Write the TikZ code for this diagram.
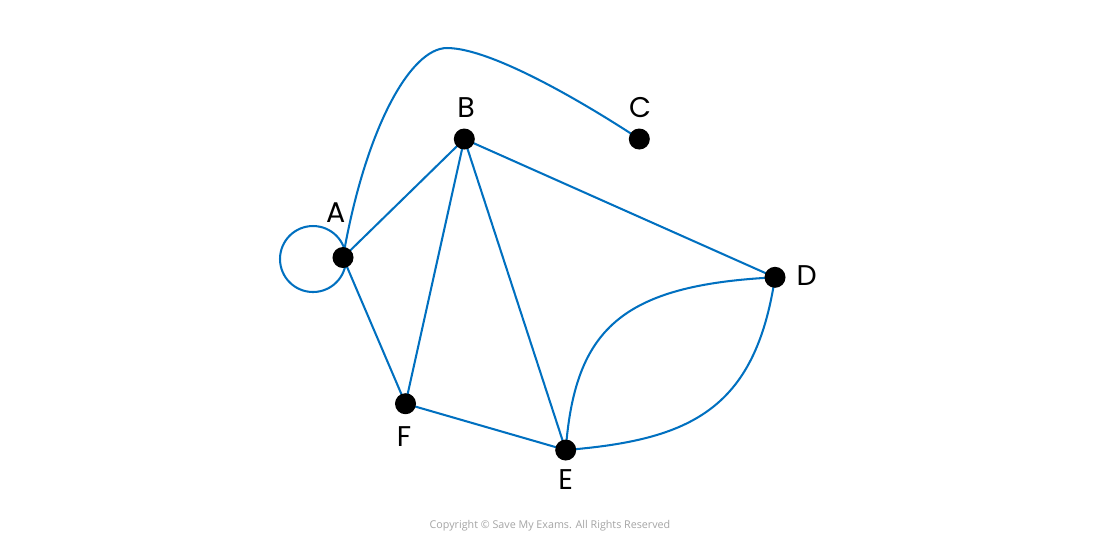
\documentclass[tikz,border=0pt]{standalone}
\usepackage{fontspec}
\setmainfont{Poppins}
\newfontfamily\copyfont{Open Sans}
\definecolor{edgeblue}{RGB}{0,112,192}
\definecolor{copygray}{RGB}{165,165,165}
\begin{document}
\begin{tikzpicture}[x=0.01cm,y=-0.01cm,
  vertex/.style={circle,fill=black,inner sep=0pt,minimum size=0.21cm},
  vlabel/.style={inner sep=0pt,font=\fontsize{8.1}{9}\selectfont},
  edge/.style={draw=edgeblue,line width=0.58pt}]
\useasboundingbox (0,0) rectangle (1100,550);
\fill[white] (0,0) rectangle (1100,550);
% loop at A
\draw[edge] (313,259) circle (33);
\coordinate (apex) at (447,48);
% vertex positions
\coordinate (pA) at (343,257.5);
\coordinate (pB) at (464.3,139);
\coordinate (pC) at (639.3,139);
\coordinate (pD) at (775,277.3);
\coordinate (pE) at (565.7,450);
\coordinate (pF) at (405.5,403.7);
% edges
\draw[edge] (pA) -- (pB);
\draw[edge] (pA) -- (pF);
\draw[edge] (pB) -- (pF);
\draw[edge] (pB) -- (pE);
\draw[edge] (pB) -- (pD);
\draw[edge] (pF) -- (pE);
\draw[edge] (pA) .. controls (365,130) and (410,48) .. (apex)
  .. controls (490,48) and (580,100) .. (pC);
\draw[edge] (pE) .. controls (575,330) and (620,285) .. (pD);
\draw[edge] (pE) .. controls (690,440) and (755,410) .. (pD);
% vertices
\node[vertex] (A) at (pA) {};
\node[vertex] (B) at (pB) {};
\node[vertex] (C) at (pC) {};
\node[vertex] (D) at (pD) {};
\node[vertex] (E) at (pE) {};
\node[vertex] (F) at (pF) {};
% labels
\node[vlabel] (labA) at (335.7,213) {A};
\node[vlabel] (labB) at (466,108) {B};
\node[vlabel] (labC) at (640,108) {C};
\node[vlabel] (labD) at (806.7,276) {D};
\node[vlabel] (labE) at (565.7,480) {E};
\node[vlabel] (labF) at (404,436.7) {F};
% copyright
\node[inner sep=0pt,text=copygray,font=\copyfont\fontsize{3.05}{3.6}\selectfont] (copy) at (550,526) {Copyright © Save My Exams. All Rights Reserved};
\end{tikzpicture}
\end{document}
